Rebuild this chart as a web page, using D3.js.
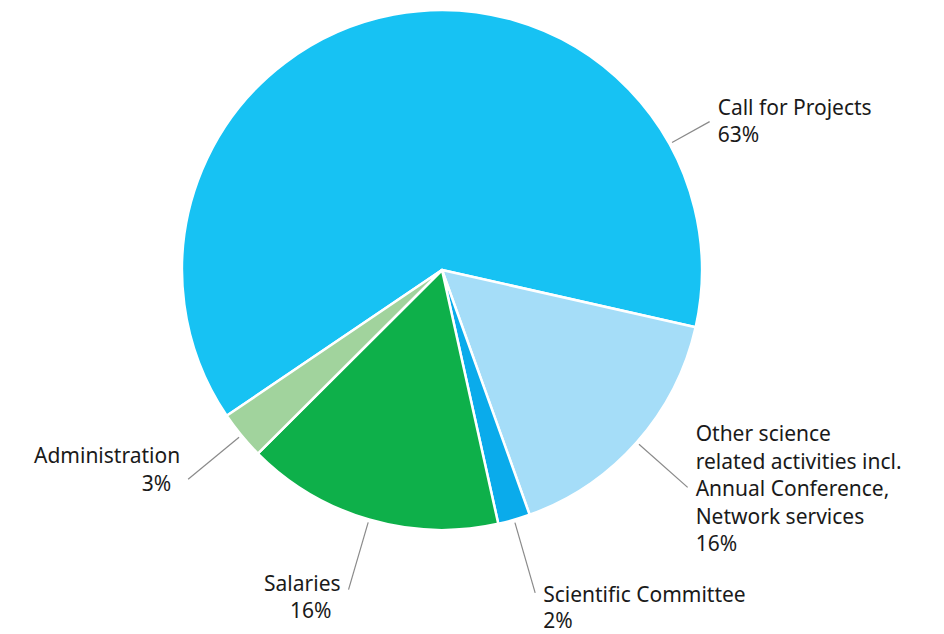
<!DOCTYPE html>
<html>
<head>
<meta charset="utf-8">
<script src="https://cdn.jsdelivr.net/npm/d3@7"></script>
<style>
  body { margin: 0; background: #fff; }
  text { font-family: "Noto Sans", Lato, sans-serif; fill: #1a1a1a; }
</style>
</head>
<body>
<div id="chart"></div>
<script>
const width = 944, height = 634;

// chart values
const categories = ["Call for Projects", "Other science related activities incl. Annual Conference, Network services",
    "Scientific Committee", "Salaries", "Administration"];
const shares = [63, 16, 2, 16, 3];
const labelLines = [
    ["Call for Projects"],
    ["Other science", "related activities incl.", "Annual Conference,", "Network services"],
    ["Scientific Committee"],
    ["Salaries"],
    ["Administration"]
];
const colors = ["#17c2f3", "#a5ddf8", "#0aabeb", "#0eb04a", "#a1d39d"];

const data = categories.map((c, i) => ({ name: c, value: shares[i], lines: labelLines[i], color: colors[i] }));

const cx = 442, cy = 270, radius = 260;
const toRad = Math.PI / 180;

const svg = d3.select("#chart").append("svg")
    .attr("width", width)
    .attr("height", height);

const g = svg.append("g").attr("transform", `translate(${cx},${cy})`);

const pie = d3.pie()
    .sort(null)
    .value(d => d.value)
    .startAngle(-124.1 * toRad)
    .endAngle((360 - 124.1) * toRad);

const arc = d3.arc().innerRadius(0).outerRadius(radius);

const arcs = pie(data);

g.selectAll("path.slice")
    .data(arcs)
    .enter().append("path")
    .attr("class", "slice")
    .attr("d", arc)
    .attr("fill", d => d.data.color)
    .attr("stroke", "#fff")
    .attr("stroke-width", 2.5)
    .attr("stroke-linejoin", "round");

// label placement: the big slice gets its label off to the right, the rest sit on the mid angle
function labelAngle(d) {
    if (d.index === 0) return 61 * toRad;
    return (d.startAngle + d.endAngle) / 2;
}
const lineEnd = [306, 328, 336, 333, 329];

const pt = (a, r) => [Math.sin(a) * r, -Math.cos(a) * r];

const labels = g.selectAll("g.label")
    .data(arcs)
    .enter().append("g")
    .attr("class", "label");

labels.append("line")
    .attr("x1", d => pt(labelAngle(d), radius + 3)[0])
    .attr("y1", d => pt(labelAngle(d), radius + 3)[1])
    .attr("x2", d => pt(labelAngle(d), lineEnd[d.index])[0])
    .attr("y2", d => pt(labelAngle(d), lineEnd[d.index])[1])
    .attr("stroke", "#8a8a8a")
    .attr("stroke-width", 1.2);

const lineH = 27.5;
labels.append("text")
    .attr("font-size", 21)
    .each(function(d) {
        const a = labelAngle(d);
        const [ex, ey] = pt(a, lineEnd[d.index]);
        const right = Math.sin(a) > 0;
        const rows = d.data.lines.concat([d.data.value + "%"]);
        const n = rows.length;
        // vertical offset of the block relative to the line end
        let top;
        if (d.index === 0) top = ey - 7;
        else if (d.index === 1) top = ey - 46;
        else if (d.index === 2) top = ey + 9;
        else if (d.index === 3) top = ey + 1;
        else top = ey - 16;
        const x = right ? ex + 8 : ex - 8;
        const t = d3.select(this)
            .attr("text-anchor", right ? "start" : "end");
        rows.forEach((r, i) => {
            t.append("tspan")
                .attr("x", (!right && i === n - 1) ? x - 9 : x)
                .attr("y", top + i * (d.index === 2 ? 26 : lineH))
                .text(r);
        });
    });
</script>
</body>
</html>
